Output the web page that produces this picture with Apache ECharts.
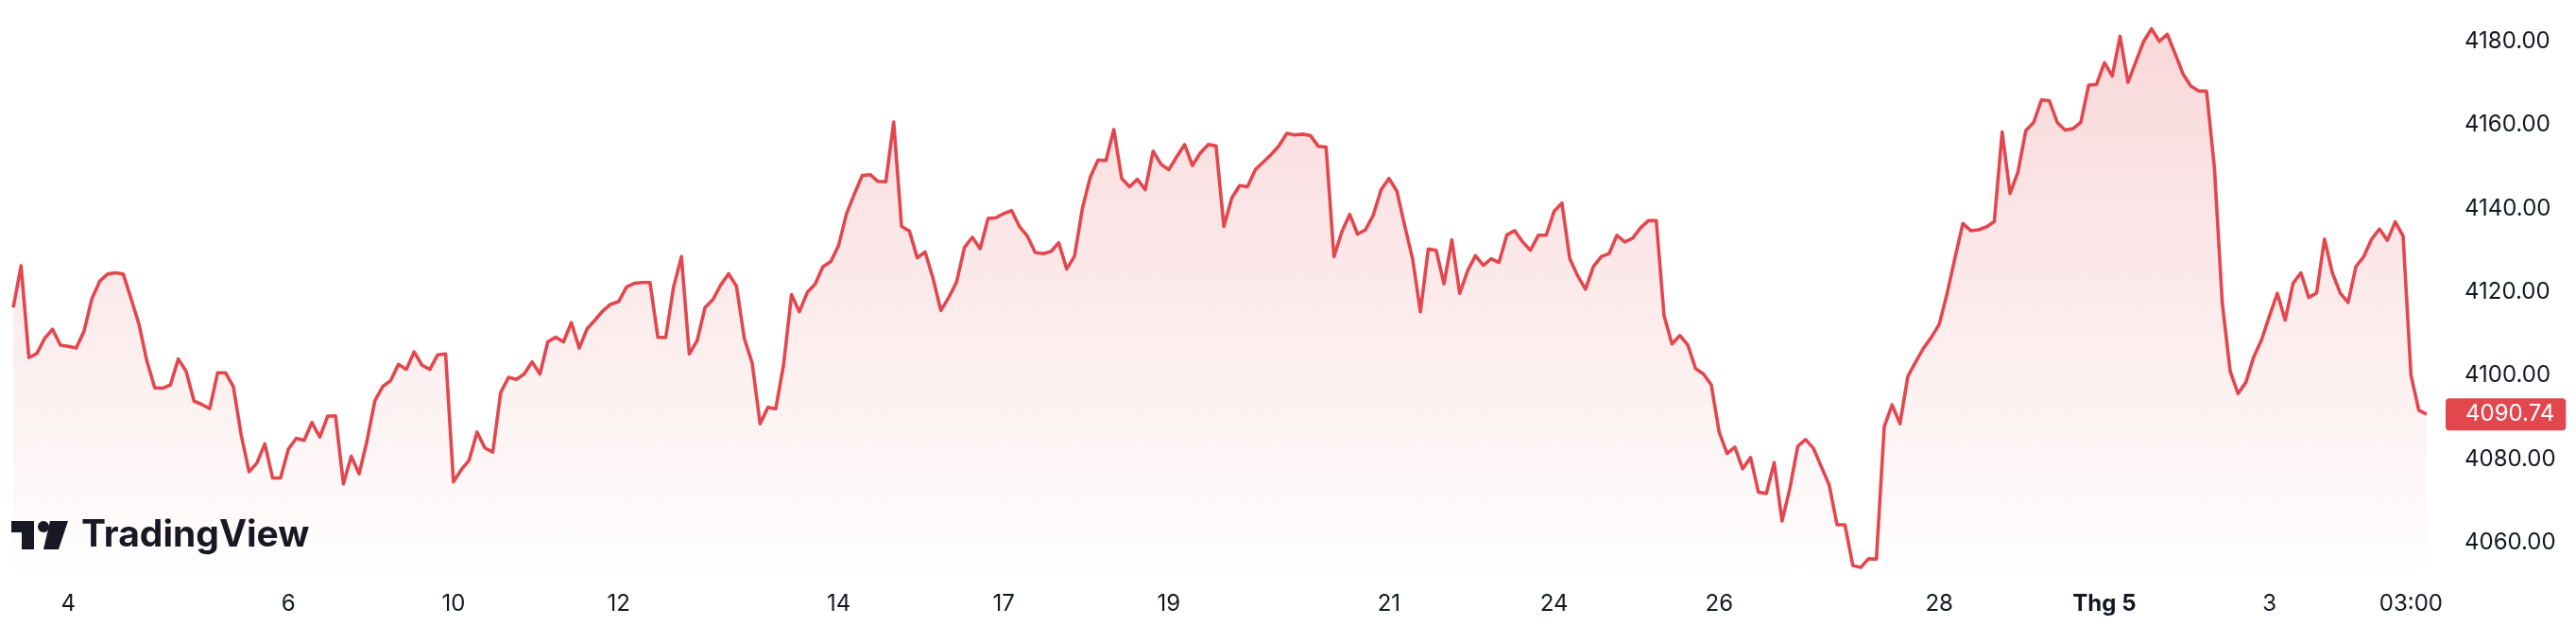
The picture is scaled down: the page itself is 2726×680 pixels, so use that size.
<!DOCTYPE html>
<html>
<head>
<meta charset="utf-8">
<script src="https://cdn.jsdelivr.net/npm/echarts@6/dist/echarts.min.js"></script>
<style>
html,body{margin:0;padding:0;background:#ffffff;}
#c{width:2726px;height:680px;}
</style>
</head>
<body>
<div id="c"></div>
<script>
// Price series (one value per bar, oldest first); last value is the current price
const prices = [
4116.3,4126.3,4104.3,4105.3,4108.9,4111.1,4107.3,4107.0,4106.6,4110.6,
4118.4,4122.6,4124.3,4124.6,4124.3,4118.4,4112.3,4103.5,4097.1,4097.0,
4097.8,4104.0,4101.0,4093.9,4093.1,4092.1,4100.7,4100.7,4097.4,4085.8,
4077.0,4079.1,4083.7,4075.5,4075.5,4082.4,4085.0,4084.5,4088.8,4085.3,
4090.3,4090.4,4074.1,4080.7,4076.5,4084.4,4094.0,4097.4,4098.8,4102.7,
4101.5,4105.7,4102.5,4101.5,4105.0,4105.2,4074.6,4077.5,4079.8,4086.5,
4082.7,4081.7,4095.9,4099.6,4099.1,4100.4,4103.3,4100.4,4108.1,4109.2,
4108.1,4112.7,4106.6,4111.2,4113.3,4115.5,4117.1,4117.7,4121.2,4122.1,
4122.3,4122.3,4109.2,4109.1,4121.2,4128.5,4105.2,4108.4,4116.3,4118.2,
4121.7,4124.4,4121.4,4108.9,4103.0,4088.5,4092.4,4092.1,4102.7,4119.4,
4115.3,4119.9,4121.9,4126.1,4127.3,4131.2,4138.8,4143.5,4147.9,4148.1,
4146.5,4146.4,4160.7,4135.7,4134.6,4128.2,4129.6,4123.3,4115.6,4118.7,
4122.4,4130.7,4133.1,4130.4,4137.6,4137.8,4138.8,4139.5,4135.7,4133.4,
4129.5,4129.2,4129.7,4131.8,4125.5,4128.6,4140.0,4147.5,4151.6,4151.5,
4158.9,4147.2,4145.2,4147.0,4144.5,4153.7,4150.6,4149.3,4152.4,4155.3,
4150.3,4153.3,4155.3,4155.0,4135.7,4142.5,4145.5,4145.2,4149.3,4151.1,
4152.9,4155.0,4158.0,4157.6,4157.8,4157.5,4154.9,4154.7,4128.5,4134.4,
4138.6,4133.9,4134.9,4138.4,4144.5,4147.2,4144.2,4135.9,4128.0,4115.3,
4130.3,4130.0,4122.0,4132.5,4119.7,4125.1,4128.7,4126.4,4128.0,4127.1,
4133.7,4134.7,4132.0,4130.0,4133.6,4133.6,4139.3,4141.3,4128.0,4123.9,
4120.7,4126.1,4128.5,4129.2,4133.6,4132.0,4132.9,4135.4,4137.1,4137.1,
4114.3,4107.6,4109.6,4107.4,4101.7,4100.4,4097.8,4086.5,4081.4,4082.9,
4077.7,4080.4,4072.1,4071.8,4079.2,4065.2,4073.1,4083.1,4084.7,4082.6,
4078.2,4073.8,4064.3,4064.3,4054.6,4054.1,4056.2,4056.1,4087.8,4093.0,
4088.5,4099.8,4103.3,4106.6,4109.2,4112.3,4119.7,4128.2,4136.4,4134.7,
4134.9,4135.6,4136.9,4158.3,4143.6,4148.7,4158.6,4160.6,4166.0,4165.8,
4160.6,4158.8,4159.1,4160.6,4169.5,4169.7,4174.9,4171.7,4181.2,4170.2,
4175.1,4180.0,4183.0,4180.0,4181.7,4177.1,4172.2,4169.3,4168.1,4168.1,
4149.7,4117.3,4101.1,4095.7,4098.4,4104.5,4108.6,4114.3,4119.7,4113.3,
4122.1,4124.6,4118.7,4119.8,4132.7,4124.6,4119.8,4117.5,4126.1,4128.5,
4132.7,4135.1,4132.4,4136.8,4133.4,4100.1,4091.7,4090.74
];

// Time-axis ticks: bar index where each label sits, and its text
const timeTickIndex = [7, 35, 56, 77, 105, 126, 147, 175, 196, 217, 245, 266, 287, 305];
const timeTickText  = ['4', '6', '10', '12', '14', '17', '19', '21', '24', '26', '28', 'Thg 5', '3', '03:00'];
const boldTimeTicks = ['Thg 5'];

// Price-axis ticks
const priceTicks = [4060, 4080, 4100, 4120, 4140, 4160, 4180];

const RED = '#e3474e';
const INK = '#131722';
const FONT = 'Inter, "Noto Sans", sans-serif';

const chart = echarts.init(document.getElementById('c'), null, { renderer: 'canvas' });
const seriesData = prices.map((v, i) => [i, v]);
const lastPrice = prices[prices.length - 1];

const option = {
  animation: false,
  backgroundColor: '#ffffff',
  grid: { left: 14, right: 158, top: 0, bottom: 79, containLabel: false, outerBoundsMode: 'none' },
  xAxis: {
    type: 'value',
    min: 0,
    max: prices.length - 1,
    axisLine: { show: false },
    axisTick: { show: false },
    splitLine: { show: false },
    axisLabel: {
      customValues: timeTickIndex,
      showMinLabel: true,
      showMaxLabel: true,
      hideOverlap: false,
      margin: 26,
      color: INK,
      fontSize: 24,
      fontFamily: FONT,
      formatter: function (v) {
        const k = timeTickIndex.indexOf(Math.round(v));
        if (k < 0) return '';
        const t = timeTickText[k];
        return boldTimeTicks.indexOf(t) >= 0 ? '{b|' + t + '}' : t;
      },
      rich: { b: { fontWeight: 'bold', fontSize: 24, fontFamily: FONT, color: INK } }
    }
  },
  yAxis: {
    type: 'value',
    position: 'right',
    min: 4053.9,
    max: 4189.9,
    axisLine: { show: false },
    axisTick: { show: false },
    splitLine: { show: false },
    axisLabel: {
      customValues: priceTicks,
      showMinLabel: true,
      showMaxLabel: true,
      margin: 40,
      color: INK,
      fontSize: 24,
      fontFamily: FONT,
      formatter: function (v) { return v.toFixed(2); }
    }
  },
  series: [{
    type: 'line',
    data: seriesData,
    symbol: 'none',
    lineStyle: { color: RED, width: 3.6, join: 'round' },
    areaStyle: {
      origin: 'start',
      color: new echarts.graphic.LinearGradient(0, 0, 0, 1, [
        { offset: 0, color: 'rgba(227,71,78,0.30)' },
        { offset: 1, color: 'rgba(227,71,78,0.01)' }
      ])
    },
    markLine: {
      silent: true,
      symbol: ['none', 'none'],
      animation: false,
      lineStyle: { width: 0, color: 'rgba(0,0,0,0)', type: 'solid' },
      emphasis: { disabled: true },
      data: [{ yAxis: lastPrice }],
      label: {
        show: true,
        position: 'end',
        distance: 20,
        formatter: function () { return lastPrice.toFixed(2); },
        color: '#ffffff',
        opacity: 1,
        fontSize: 24,
        fontFamily: FONT,
        backgroundColor: RED,
        padding: [5, 12, 5, 21],
        borderRadius: 4
      }
    }
  }],
  graphic: [
    { type: 'rect', shape: { x: 12, y: 551, width: 24, height: 12 }, style: { fill: INK } },
    { type: 'rect', shape: { x: 23, y: 551, width: 13, height: 30 }, style: { fill: INK } },
    { type: 'circle', shape: { cx: 46, cy: 557, r: 6 }, style: { fill: INK } },
    { type: 'polygon', shape: { points: [[53, 551], [72, 551], [62, 581], [46, 581]] }, style: { fill: INK } },
    { type: 'text', x: 86, y: 566, style: { text: 'TradingView', fill: INK, font: 'bold 39px Inter, "Noto Sans", sans-serif', textAlign: 'left', textVerticalAlign: 'middle', verticalAlign: 'middle' } }
  ]
};

chart.setOption(option);
</script>
</body>
</html>
